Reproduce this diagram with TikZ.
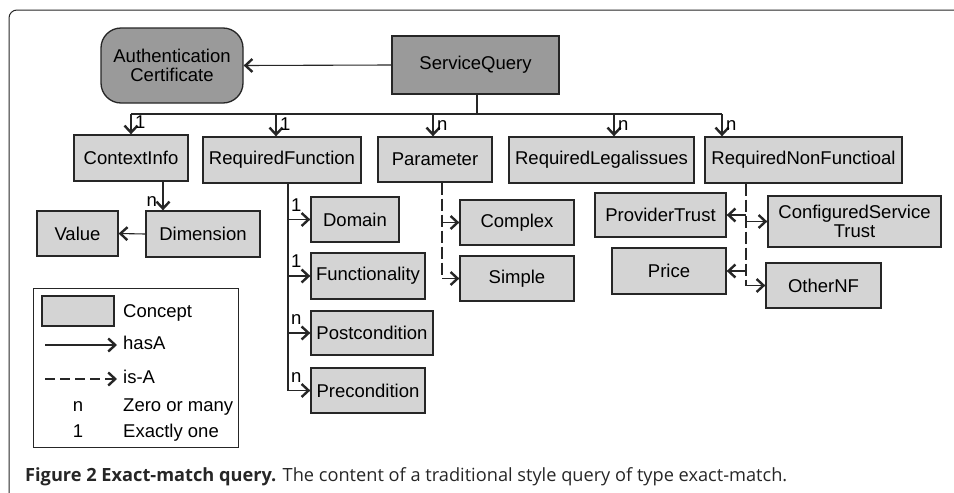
\documentclass[tikz,border=0pt]{standalone}
\usepackage{fontspec}
\setmainfont{Liberation Sans}
\newfontfamily\capfont{Open Sans}
\usetikzlibrary{arrows.meta,positioning}
\definecolor{conceptgray}{HTML}{D4D4D4}
\definecolor{rootgray}{HTML}{9A9A9A}
\definecolor{linegray}{HTML}{262626}
\tikzset{
	concept/.style={draw=linegray,line width=1.3pt,fill=conceptgray,inner sep=0pt,align=center,font=\fontsize{18.5}{19.5}\selectfont},
	rootbox/.style={concept,fill=rootgray},
	line/.style={draw=linegray,line width=1.1pt},
	isaline/.style={line,dash pattern=on 12pt off 4pt},
	hasa/.style={line,-{Straight Barb[length=7pt,width=13pt,line width=2.4pt]}},
	isa/.style={hasa,dash pattern=on 10pt off 5pt},
	card/.style={inner sep=1pt,text height=13pt,text depth=4pt,font=\fontsize{18.5}{19.5}\selectfont}
}
\begin{document}
\begin{tikzpicture}[x=1pt,y=-1pt]
\useasboundingbox (0,0) rectangle (954,493);
\draw[linegray,line width=1pt,rounded corners=8pt] (9,493) -- (9,10) -- (954,10);

% top
\node[rootbox,minimum width=167,minimum height=58] (sq) at (475.5,65) {ServiceQuery};
\node[rootbox,rounded corners=20pt,minimum width=142,minimum height=75] (auth) at (172,65.5) {Authentication\\Certificate};
\draw[hasa] (sq.west) -- (auth.east);

% second row
\node[concept,minimum width=114,minimum height=46] (ctx) at (131,158) {ContextInfo};
\node[concept,minimum width=158,minimum height=46] (rf) at (282,160) {RequiredFunction};
\node[concept,minimum width=114,minimum height=45] (par) at (435,159.5) {Parameter};
\node[concept,minimum width=185,minimum height=46] (rl) at (601.5,160) {RequiredLegalissues};
\node[concept,minimum width=197,minimum height=46] (rnf) at (803.5,160) {RequiredNonFunctioal};

\coordinate (bus) at (477,114);
\coordinate (b1) at (131,114);
\coordinate (b2) at (276,114);
\coordinate (b3) at (433,114);
\coordinate (b4) at (614,114);
\coordinate (b5) at (722,114);
\draw[line] (sq.south -| bus) -- (bus);
\draw[line] (b1) -- (b5);
\foreach \b/\n/\c in {b1/ctx/1,b2/rf/1,b3/par/n,b4/rl/n,b5/rnf/n}
{
	\draw[hasa] (\b) -- (\b |- \n.north);
	\node[card,anchor=west] at ([xshift=3pt,yshift=10pt]\b |- \n.north) {\c};
}

% context info
\node[concept,minimum width=114,minimum height=46] (dim) at (203,234) {Dimension};
\node[concept,minimum width=81,minimum height=45] (val) at (77.5,233.5) {Value};
\coordinate (cd) at (163,0);
\draw[hasa] (ctx.south -| cd) -- (dim.north -| cd);
\node[card,anchor=east] at ([xshift=-5pt,yshift=8pt]dim.north -| cd) {n};
\draw[hasa] (dim.west) -- (val.east);

% required function
\node[concept,minimum width=88,minimum height=45] (dom) at (355,219.5) {Domain};
\node[concept,minimum width=114,minimum height=46] (fun) at (368,276) {Functionality};
\node[concept,minimum width=122,minimum height=44] (post) at (372,333) {Postcondition};
\node[concept,minimum width=114,minimum height=45] (pre) at (368,390.5) {Precondition};
\coordinate (rfs) at (288,0);
\draw[line] (rf.south -| rfs) -- (pre.west -| rfs);
\foreach \n/\c in {dom/1,fun/1,post/n,pre/n}
{
	\draw[hasa] (\n.west -| rfs) -- (\n.west);
	\node[card,anchor=south west,text height=,text depth=0pt] at ([xshift=2pt,yshift=7pt]\n.west -| rfs) {\c};
}

% parameter
\node[concept,minimum width=114,minimum height=45] (cpx) at (517,222.5) {Complex};
\node[concept,minimum width=114,minimum height=45] (smp) at (517,278.5) {Simple};
\coordinate (pars) at (442,0);
\draw[isaline] (par.south -| pars) -- (smp.west -| pars);
\foreach \n in {cpx,smp}
{
	\draw[hasa] (\n.west -| pars) -- (\n.west);
}

% non functional
\node[concept,minimum width=131,minimum height=44] (pt) at (660.5,215) {ProviderTrust};
\node[concept,minimum width=173,minimum height=51] (cst) at (854.5,221.5) {ConfiguredService\\Trust};
\node[concept,minimum width=114,minimum height=46] (pr) at (669,271) {Price};
\node[concept,minimum width=115,minimum height=45] (onf) at (823.5,285.5) {OtherNF};
\coordinate (nfs) at (746,0);
\draw[isaline] (rnf.south -| nfs) -- (onf.west -| nfs);
\foreach \n in {pt,pr}
{
	\draw[hasa] (\n.east -| nfs) -- (\n.east);
}
\foreach \n in {cst,onf}
{
	\draw[hasa] (\n.west -| nfs) -- (\n.west);
}

% legend
\node[draw=linegray,line width=1.3pt,minimum width=205,minimum height=159,anchor=north west] (legend) at (33,288) {};
\node[concept,minimum width=72,minimum height=30] (swatch) at (78,311) {};
\coordinate (h1) at (45,345);
\coordinate (h2) at (117,345);
\coordinate (i1) at (45,379);
\coordinate (i2) at (117,379);
\draw[hasa] (h1) -- (h2);
\draw[isa] (i1) -- (i2);
\node[card,anchor=west] at (122,313) {Concept};
\node[card,anchor=west] at (122,345) {hasA};
\node[card,anchor=west] at (122,379) {is-A};
\node[card] at (78,407) {n};
\node[card,anchor=west] at (122,407) {Zero or many};
\node[card] at (78,433) {1};
\node[card,anchor=west] at (122,433) {Exactly one};

% caption
\node[anchor=west,inner sep=0pt,text=black!85,font=\capfont\fontsize{18.2}{21}\selectfont] (cap) at (25,477) {\textbf{Figure 2 Exact-match query.} The content of a traditional style query of type exact-match.};
\end{tikzpicture}
\end{document}
